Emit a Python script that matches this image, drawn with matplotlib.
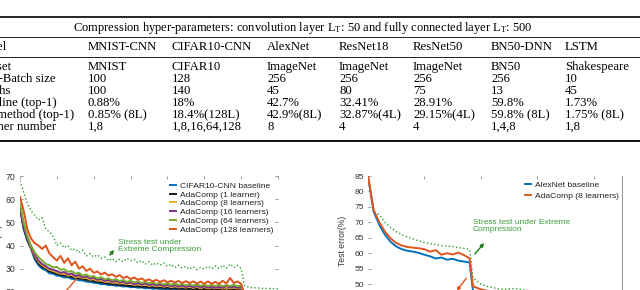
import matplotlib
matplotlib.use("Agg")
import matplotlib.pyplot as plt
from matplotlib.lines import Line2D

plt.rcParams['font.family'] = ['Liberation Sans', 'DejaVu Sans']
plt.rcParams['mathtext.fontset'] = 'custom'
plt.rcParams['mathtext.rm'] = 'Liberation Serif'

W, H = 640, 290

# ---------------- table data ----------------
header = r"Compression hyper-parameters: convolution layer $\mathrm{L_T}$: 50 and fully connected layer $\mathrm{L_T}$: 500"
row_labels = ["Model", "Dataset", "Mini-Batch size", "Epochs", "Baseline (top-1)",
              "Our method (top-1)", "Learner number"]
models = ["MNIST-CNN", "CIFAR10-CNN", "AlexNet", "ResNet18", "ResNet50", "BN50-DNN", "LSTM"]
datasets = ["MNIST", "CIFAR10", "ImageNet", "ImageNet", "ImageNet", "BN50", "Shakespeare"]
batch_sizes = ["100", "128", "256", "256", "256", "256", "10"]
epochs_cnt = ["100", "140", "45", "80", "75", "13", "45"]
baseline_acc = ["0.88%", "18%", "42.7%", "32.41%", "28.91%", "59.8%", "1.73%"]
ours_acc = ["0.85% (8L)", "18.4%(128L)", "42.9%(8L)", "32.87%(4L)", "29.15%(4L)", "59.8% (8L)", "1.75% (8L)"]
learner_nums = ["1,8", "1,8,16,64,128", "8", "4", "4", "1,4,8", "1,8"]

# ---------------- left chart data (CIFAR10-CNN) ----------------
ep_left = [0, 2, 4, 6, 8, 10, 12, 14, 16, 18, 20, 22, 24, 26, 28, 30, 32, 34, 36, 38,
           40, 42, 44, 46, 48, 50, 52, 54, 56, 58, 60, 62, 64, 66, 68, 70, 72, 74, 76, 78,
           80, 82, 84, 86, 88, 90, 92, 94, 96, 98, 100, 102, 104, 106, 108, 110, 112, 114, 116, 118,
           120, 122, 124, 126, 128, 130, 132, 134, 136, 138, 140]
after_decay = [18.5, 18.2, 18.0, 17.9, 17.8, 17.8, 17.7, 17.7, 17.6, 17.6]
cifar_baseline = [56, 47, 42, 38.5, 34, 31.5, 30, 29.3, 28, 27.8, 27, 26.8, 26.2, 26.3, 25.6, 25.5, 25.0, 24.9, 24.4, 24.3,
                  23.9, 23.8, 23.3, 23.4, 22.9, 23.0, 22.6, 22.7, 22.3, 22.4, 22.0, 22.1, 21.8, 21.9, 21.5, 21.7, 21.3, 21.5, 21.1, 21.3,
                  21.0, 21.2, 20.9, 21.1, 20.8, 21.0, 20.7, 20.9, 20.6, 20.8, 20.5, 20.8, 20.5, 20.7, 20.4, 20.7, 20.4, 20.6, 20.3, 20.6,
                  20.4] + after_decay
ada_1 = [57, 47.5, 42.5, 38.8, 34.8, 32.3, 30.8, 30, 28.8, 28.4, 27.8, 27.3, 27.0, 26.7, 26.4, 26.0, 25.8, 25.4, 25.2, 24.8,
         24.6, 24.2, 24.1, 23.7, 23.6, 23.3, 23.2, 22.9, 22.9, 22.6, 22.6, 22.3, 22.4, 22.1, 22.2, 21.9, 22.0, 21.7, 21.9, 21.6,
         21.7, 21.4, 21.6, 21.3, 21.5, 21.2, 21.4, 21.1, 21.3, 21.0, 21.3, 21.0, 21.2, 20.9, 21.2, 20.9, 21.6, 20.9, 21.2, 20.8,
         21.1] + after_decay
ada_8 = [57, 48.5, 43.5, 39, 35.5, 33, 31.5, 30.5, 29.5, 29, 28.4, 27.8, 28, 27, 27.4, 26.3, 26.8, 25.8, 26.2, 25.2,
         25.6, 24.8, 25.1, 24.3, 24.7, 23.9, 24.3, 23.6, 24.0, 23.3, 23.7, 23.0, 23.4, 22.8, 23.2, 22.6, 23.0, 22.4, 22.8, 22.2,
         22.7, 22.1, 22.5, 21.9, 22.4, 21.8, 22.3, 21.7, 22.2, 21.6, 22.1, 21.5, 22.0, 21.5, 21.9, 21.4, 21.9, 21.5, 21.9, 21.4,
         21.8] + after_decay
ada_16 = [56, 48, 43, 39.5, 36, 33.5, 32, 31, 30, 29.5, 29, 28.2, 28.6, 27.5, 27.9, 26.8, 27.3, 26.2, 26.7, 25.7,
          26.1, 25.2, 25.6, 24.7, 25.2, 24.3, 24.8, 24.0, 24.4, 23.6, 24.1, 23.3, 23.8, 23.1, 23.6, 22.9, 23.4, 22.7, 23.2, 22.5,
          23.0, 22.4, 22.9, 22.2, 22.7, 22.1, 22.6, 22.0, 22.5, 21.9, 22.4, 21.8, 22.3, 21.7, 22.2, 21.7, 22.6, 21.8, 22.3, 21.7,
          22.1] + after_decay
ada_64 = [58, 50, 44, 40, 37, 35, 33.5, 32, 31.5, 30.5, 30.8, 29.5, 29.8, 28.6, 29, 27.8, 28.3, 27, 27.5, 26.5,
          26.8, 25.8, 26.3, 25.4, 25.8, 25.0, 25.5, 24.6, 25.1, 24.3, 24.8, 24.0, 24.6, 23.8, 24.3, 23.6, 24.1, 23.4, 23.9, 23.2,
          23.7, 23.0, 23.6, 22.9, 23.4, 22.8, 23.3, 22.7, 23.2, 22.6, 23.1, 22.5, 23.0, 22.5, 23.0, 22.4, 22.9, 22.5, 23.0, 22.4,
          22.8] + after_decay
ada_128 = [61, 55, 47, 43, 41, 40, 38.5, 40, 36.5, 35, 33.5, 35.5, 32.5, 34.5, 31.5, 33, 30, 31, 29, 30,
           28.2, 28.8, 27.5, 28.3, 27, 27.6, 26.5, 27.2, 26, 26.6, 25.5, 26.2, 25.2, 25.8, 24.8, 25.4, 24.5, 25.2, 24.3, 25.0,
           24.1, 24.8, 24.0, 24.7, 23.8, 24.6, 23.8, 24.5, 23.6, 24.4, 23.5, 24.5, 23.5, 24.3, 23.4, 24.8, 23.6, 26.0, 23.8, 24.5,
           23.5] + after_decay
stress_left = [68, 63, 58, 55, 53, 51, 52, 47, 46, 44, 40, 41, 39, 40, 38, 38.5, 37, 38, 35.5, 36.5,
               35, 36, 34.5, 35, 33.5, 34.5, 33, 34, 33, 34.5, 33.5, 34, 32.5, 33.5, 32, 33, 31.5, 32.5, 31.5, 32.5,
               31, 31.8, 30.5, 31.5, 30.2, 31, 29.8, 30.8, 29.6, 30.5, 29.8, 31, 30, 31.2, 30, 31.5, 30.2, 32, 30.5, 31.5,
               30, 22.5, 22, 21.8, 21.7, 21.6, 21.5, 21.5, 21.4, 21.4, 21.3]
left_series = [("CIFAR10-CNN baseline", cifar_baseline, "#0072BD"),
               ("AdaComp (1 learner)", ada_1, "#1a1a1a"),
               ("AdaComp (8 learners)", ada_8, "#EDB120"),
               ("AdaComp (16 learners)", ada_16, "#7E2F8E"),
               ("AdaComp (64 learners)", ada_64, "#77AC30"),
               ("AdaComp (128 learners)", ada_128, "#E0531A")]

# ---------------- right chart data (AlexNet) ----------------
ep_right = [0, 1, 2, 3, 4, 5, 6, 7, 8, 9, 10, 11, 12, 13, 14, 15, 16, 17, 18, 18.6, 20, 21, 22, 23, 24,
            26, 28, 30, 32, 35, 38, 41, 45]
alex_baseline = [85, 73.5, 69.2, 66, 63.7, 62.2, 61.3, 60.8, 60.5, 60.1, 59.5, 59, 58.3, 58.6, 57.9, 58.2, 57.6, 57.3, 57.0,
                 47.8, 46.8, 46.3, 46.0, 45.7, 45.5, 45.2, 45.0, 44.8, 44.6, 44.4, 44.2, 44.1, 44.0]
alex_ada8 = [85, 74, 70, 67, 64.8, 63.3, 62.5, 62, 61.8, 61.6, 61.3, 60.5, 61, 59.5, 60, 59.6, 60.2, 59.4, 58.3,
             49.3, 48.3, 47.9, 47.6, 47.3, 47.0, 46.7, 46.4, 46.2, 46.0, 45.8, 45.6, 45.5, 45.4]
stress_right = [85, 73.5, 72.5, 70, 68.3, 67, 66, 65.2, 64.6, 64, 63.5, 63.1, 62.8, 62.5, 62.3, 62.2, 61.8, 61.6, 61.2,
                52.0, 50.0, 49.3, 48.9, 48.5, 48.3, 48.6, 48.0, 47.6, 47.2, 46.8, 46.4, 46.0, 45.6]

# ---------------- figure ----------------
fig = plt.figure(figsize=(W / 100, H / 100), dpi=100)


def fx(px):
    return px / W


def fy(py):
    return 1 - py / H


def rect(x0, y0, x1, y1):
    return [x0 / W, 1 - y1 / H, (x1 - x0) / W, (y1 - y0) / H]


# table
serif = ['Liberation Serif', 'DejaVu Serif']
tfs = 9.2
for yy, lw in [(17, 1.2), (37, 0.6), (57, 0.6), (141, 1.3)]:
    fig.add_artist(Line2D([0, 1], [fy(yy), fy(yy)], transform=fig.transFigure, color='black', lw=lw))
fig.text(fx(73), fy(28), header, family=serif, fontsize=9.0, va='center', ha='left')
col_x = [88, 172, 267, 339, 413, 491, 565]
row_y = [47, 67, 79, 91, 103, 115, 127]
rows = [models, datasets, batch_sizes, epochs_cnt, baseline_acc, ours_acc, learner_nums]
for lab, vals, yy in zip(row_labels, rows, row_y):
    fig.text(fx(-26), fy(yy), lab, family=serif, fontsize=tfs, va='center', ha='left')
    for v, xx in zip(vals, col_x):
        fig.text(fx(xx), fy(yy), v, family=serif, fontsize=tfs, va='center', ha='left')

tick_color = '#333333'
green_txt = '#3a9e3a'
green_arrow = '#127a12'
orange_arrow = '#E5531A'

# left chart
ax1 = fig.add_axes(rect(20, 176, 278, 315))
ax1.plot(ep_left, stress_left, linestyle=':', color='#2ca02c', lw=1.0)
handles = []
for lab, vals, col in left_series:
    h, = ax1.plot(ep_left, vals, color=col, lw=1.4, label=lab)
    handles.append(h)
ax1.set_xlim(0, 140)
ax1.set_ylim(10, 70)
ax1.set_xticks([0, 20, 40, 60, 80, 100, 120, 140])
ax1.set_yticks([20, 30, 40, 50, 60, 70])
ax1.tick_params(axis='both', direction='in', length=2, width=0.6, color='#888888',
                labelsize=6.3, labelcolor=tick_color, pad=3, top=True, right=True, labelbottom=False)
for s in ax1.spines.values():
    s.set_visible(False)
ax1.set_ylabel("Test error(%)", fontsize=6.2, color=tick_color)
ax1.yaxis.set_label_coords(fx(3), fy(250), transform=fig.transFigure)
leg1 = ax1.legend(handles=handles, loc='upper left', bbox_to_anchor=(fx(169), fy(181)),
                  bbox_transform=fig.transFigure, fontsize=6.1, handlelength=0.7, handletextpad=0.5,
                  labelspacing=0.1, borderpad=0.1, borderaxespad=0, frameon=True, fancybox=False,
                  facecolor='white', edgecolor='none', framealpha=1)
for t in leg1.get_texts():
    t.set_color('#222222')
fig.text(fx(118), fy(239), "Stress test under\nExtreme Compression", fontsize=6.0, color=green_txt,
         va='top', ha='left', linespacing=1.0)
ax1.annotate('', xy=(116, H - 248), xytext=(108, H - 257), xycoords='figure pixels',
             textcoords='figure pixels', annotation_clip=False,
             arrowprops=dict(arrowstyle='-|>', color=green_arrow, lw=1.0, mutation_scale=5))
ax1.annotate('', xy=(60, H - 298), xytext=(78, H - 277), xycoords='figure pixels',
             textcoords='figure pixels', annotation_clip=False,
             arrowprops=dict(arrowstyle='-|>', color=orange_arrow, lw=1.0, mutation_scale=5))

# right chart
ax2 = fig.add_axes(rect(368, 176, 622, 315))
ax2.plot(ep_right, stress_right, linestyle=':', color='#2ca02c', lw=1.0)
h1, = ax2.plot(ep_right, alex_baseline, color='#0072BD', lw=1.4, label="AlexNet baseline")
h2, = ax2.plot(ep_right, alex_ada8, color='#E0531A', lw=1.4, label="AdaComp (8 learners)")
ax2.set_xlim(0, 45)
ax2.set_ylim(40, 85)
ax2.set_xticks([0, 10, 20, 30, 40])
ax2.set_yticks([45, 50, 55, 60, 65, 70, 75, 80, 85])
ax2.tick_params(axis='both', direction='in', length=2, width=0.6, color='#888888',
                labelsize=6.1, labelcolor=tick_color, pad=3, top=True, right=False, labelbottom=False)
for k, s in ax2.spines.items():
    s.set_visible(k == 'right')
ax2.spines['right'].set_color('#999999')
ax2.spines['right'].set_linewidth(0.8)
ax2.set_ylabel("Test error(%)", fontsize=6.2, color=tick_color)
ax2.yaxis.set_label_coords(fx(347), fy(241), transform=fig.transFigure)
leg2 = ax2.legend(handles=[h1, h2], loc='upper left', bbox_to_anchor=(fx(524), fy(180)),
                  bbox_transform=fig.transFigure, fontsize=6.1, handlelength=0.7, handletextpad=0.5,
                  labelspacing=0.35, borderpad=0.1, borderaxespad=0, frameon=True, fancybox=False,
                  facecolor='white', edgecolor='none', framealpha=1)
for t in leg2.get_texts():
    t.set_color('#222222')
fig.text(fx(473), fy(219), "Stress test under Extreme\nCompression", fontsize=6.0, color=green_txt,
         va='top', ha='left', linespacing=1.0)
ax2.annotate('', xy=(486, H - 241), xytext=(473, H - 256), xycoords='figure pixels',
             textcoords='figure pixels', annotation_clip=False,
             arrowprops=dict(arrowstyle='-|>', color=green_arrow, lw=1.0, mutation_scale=5))
ax2.annotate('', xy=(455, H - 293), xytext=(468, H - 276), xycoords='figure pixels',
             textcoords='figure pixels', annotation_clip=False,
             arrowprops=dict(arrowstyle='-|>', color=orange_arrow, lw=1.0, mutation_scale=5))

fig.savefig("out.png", dpi=100)
